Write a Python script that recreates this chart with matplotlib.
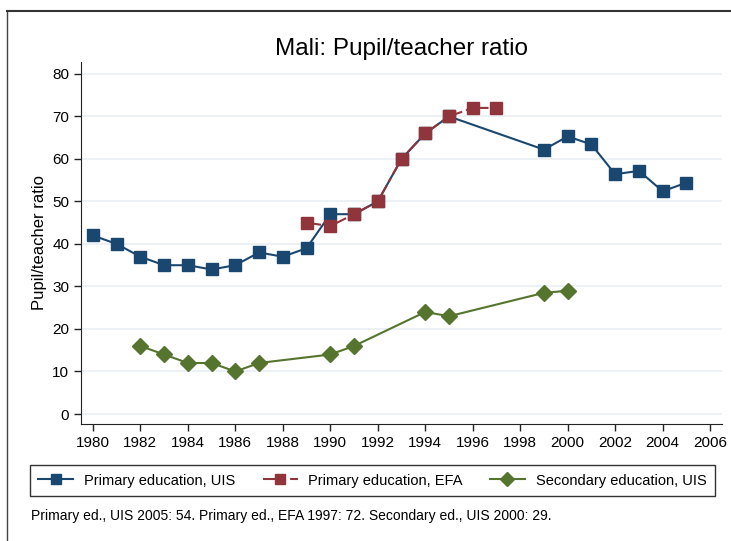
import matplotlib.pyplot as plt
from matplotlib.lines import Line2D

plt.rcParams['font.family'] = ['Liberation Sans', 'DejaVu Sans']

# primary education, UIS
uis_years = [1980, 1981, 1982, 1983, 1984, 1985, 1986, 1987, 1988, 1989, 1990, 1991,
             1992, 1993, 1994, 1995, 1999, 2000, 2001, 2002, 2003, 2004, 2005]
uis_vals = [42, 40, 37, 35, 35, 34, 35, 38, 37, 39, 47, 47,
            50, 60, 66, 70, 62.2, 65.3, 63.4, 56.4, 57.2, 52.4, 54.4]

# primary education, EFA
efa_years = [1989, 1990, 1991, 1992, 1993, 1994, 1995, 1996, 1997]
efa_vals = [45, 44.2, 47, 50, 60, 66, 70, 72, 72]

# secondary education, UIS
sec_years = [1982, 1983, 1984, 1985, 1986, 1987, 1990, 1991, 1994, 1995, 1999, 2000]
sec_vals = [16, 14, 12, 12, 10, 12, 14, 16, 24, 23, 28.5, 29]

xticks = list(range(1980, 2007, 2))
yticks = list(range(0, 81, 10))

blue = '#1a476f'
red = '#90353b'
green = '#55752f'

W, H = 731, 541
fig = plt.figure(figsize=(W / 100, H / 100), dpi=100)
ax = fig.add_axes([81 / W, 1 - 424 / H, (722 - 81) / W, (424 - 62) / H])

ax.plot(uis_years, uis_vals, color=blue, lw=1.5, marker='s', ms=8.5,
        label='Primary education, UIS', zorder=3)
ax.plot(efa_years, efa_vals, color=red, lw=1.5, marker='s', ms=8.5,
        dashes=(7, 2, 2, 2), label='Primary education, EFA', zorder=4)
ax.plot(sec_years, sec_vals, color=green, lw=1.5, marker='D', ms=8.5,
        label='Secondary education, UIS', zorder=3)

ax.set_xlim(1979.5, 2006.5)
ax.set_ylim(-2.35, 82.8)
ax.set_xticks(xticks)
ax.set_yticks(yticks)
ax.tick_params(labelsize=11, length=5, width=1, color='#222222')
ax.grid(axis='y', color='#e8eff3', lw=1.2)
ax.set_axisbelow(True)
for s in ['top', 'right']:
    ax.spines[s].set_visible(False)
ax.spines['left'].set_color('#222222')
ax.spines['bottom'].set_color('#222222')
ax.set_ylabel('Pupil/teacher ratio', fontsize=12)
ax.set_title('Mali: Pupil/teacher ratio', fontsize=17.5, pad=5)

leg = fig.legend(loc='center', bbox_to_anchor=(372.5 / W, 1 - 480.5 / H), ncol=3,
                 fontsize=10.5, frameon=True, fancybox=False, edgecolor='black',
                 handlelength=2.4, handletextpad=0.75, columnspacing=1.85,
                 borderpad=0.55, borderaxespad=0, markerscale=0.85)
leg.get_frame().set_linewidth(1)

fig.text(31 / W, 1 - 516 / H,
         'Primary ed., UIS 2005: 54. Primary ed., EFA 1997: 72. Secondary ed., UIS 2000: 29.',
         fontsize=10, va='center', ha='left')

# outer frame lines
fig.add_artist(Line2D([7 / W, 7 / W], [0, 1 - 11 / H], color='#444444', lw=1))
fig.add_artist(Line2D([7 / W, 1], [1 - 11 / H, 1 - 11 / H], color='#333333', lw=1.5))

fig.savefig('out.png', dpi=100, facecolor='white')
